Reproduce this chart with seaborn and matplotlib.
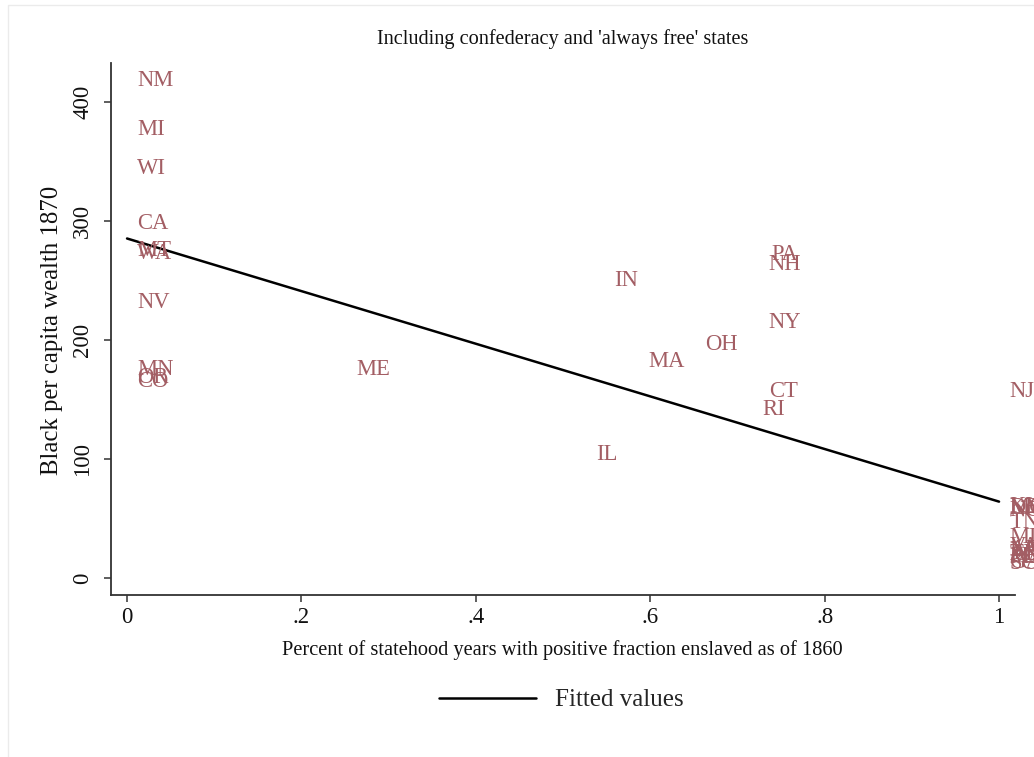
import matplotlib
matplotlib.use("Agg")
import matplotlib.pyplot as plt
import seaborn as sns
import pandas as pd
from matplotlib.patches import Rectangle

# State abbreviations, share of statehood years with a positive enslaved
# fraction (as of 1860), and Black per capita wealth in 1870.
states = ["NM", "MI", "WI", "CA", "MT", "WA", "NV", "MN", "OR", "CO",
          "ME", "IL", "IN", "MA", "OH", "PA", "NH", "NY", "CT", "RI",
          "NJ", "KY", "DE", "MO", "NC", "TN", "MD", "VA", "AR", "TX",
          "LA", "AL", "FL", "MS", "GA", "SC"]
share_enslaved = [0.0, 0.0, 0.0, 0.0, 0.0, 0.0, 0.0, 0.0, 0.0, 0.0,
                  0.251, 0.526, 0.547, 0.586, 0.651, 0.727, 0.724, 0.724, 0.724, 0.717,
                  1.0, 1.0, 1.0, 1.0, 1.0, 1.0, 1.0, 1.0, 1.0, 1.0,
                  1.0, 1.0, 1.0, 1.0, 1.0, 1.0]
wealth_1870 = [419, 378, 345, 299, 276, 274, 233, 176, 170, 166,
               176, 105, 251, 183, 197, 273, 265, 216, 158, 143,
               158, 61, 60, 60, 58, 48, 35, 28, 25, 22,
               24, 21, 19, 18, 14, 13]

x_ticks = [0, 0.2, 0.4, 0.6, 0.8, 1.0]
x_tick_labels = ["0", ".2", ".4", ".6", ".8", "1"]
y_ticks = [0, 100, 200, 300, 400]

df = pd.DataFrame({"state": states, "share": share_enslaved, "wealth": wealth_1870})

sns.set_style("white")
plt.rcParams["font.family"] = ["Liberation Serif", "DejaVu Serif"]

W, H = 1034, 757
fig = plt.figure(figsize=(W / 100, H / 100), dpi=100)
fig.patch.set_facecolor("white")
# faint outer frame of the graph region
fig.patches.append(Rectangle((8 / W, -0.05), 1.2, 1 - 5 / H + 0.05,
                             transform=fig.transFigure, fill=False,
                             edgecolor="#ebebeb", lw=1.0, zorder=0))

left, right, bottom, top = 111, 1015, 595, 63
ax = fig.add_axes([left / W, 1 - bottom / H, (right - left) / W, (bottom - top) / H])
ax.set_facecolor("white")

label_color = "#a35e64"
for _, r in df.iterrows():
    ax.annotate(r["state"], (r["share"], r["wealth"]), xytext=(7.5, -1),
                textcoords="offset points", ha="left", va="center",
                fontsize=16.3, color=label_color, clip_on=False)

sns.regplot(data=df, x="share", y="wealth", scatter=False, ci=None,
            color="black", line_kws={"lw": 1.8}, label="Fitted values", ax=ax)

ax.set_xlim(-0.0184, 1.0183)
ax.set_ylim(-14.3, 432.8)
ax.set_xticks(x_ticks)
ax.set_xticklabels(x_tick_labels)
ax.set_yticks(y_ticks)
ax.set_yticklabels([str(v) for v in y_ticks], rotation=90, va="center")

for side in ["top", "right"]:
    ax.spines[side].set_visible(False)
for side in ["left", "bottom"]:
    ax.spines[side].set_color("#333333")
    ax.spines[side].set_linewidth(1.3)

ax.tick_params(axis="both", which="both", direction="out", length=4.8, width=1.1,
               color="#333333", labelsize=16.5, labelcolor="#111111", bottom=True, left=True)
ax.tick_params(axis="x", pad=4)
ax.tick_params(axis="y", pad=8)

box_h = bottom - top
box_w = right - left
ax.set_xlabel("Percent of statehood years with positive fraction enslaved as of 1860",
              fontsize=14.7, color="#111111")
ax.xaxis.set_label_coords((562 - left) / box_w, (bottom - 650) / box_h)
ax.xaxis.label.set_va("center")

ax.set_ylabel("Black per capita wealth 1870", fontsize=17.8, color="#111111")
ax.yaxis.set_label_coords((52 - left) / box_w, (bottom - 330) / box_h)
ax.yaxis.label.set_va("center")

ax.set_title("Including confederacy and 'always free' states", fontsize=14.6,
             color="#111111", y=(bottom - 47) / box_h, va="center")

handles, labels = ax.get_legend_handles_labels()
fig.legend(handles, labels, loc="center", bbox_to_anchor=(561 / W, 1 - 700 / H),
           frameon=False, fontsize=18, handlelength=3.9, handletextpad=0.75)

fig.savefig("out.png", dpi=100, facecolor="white")
